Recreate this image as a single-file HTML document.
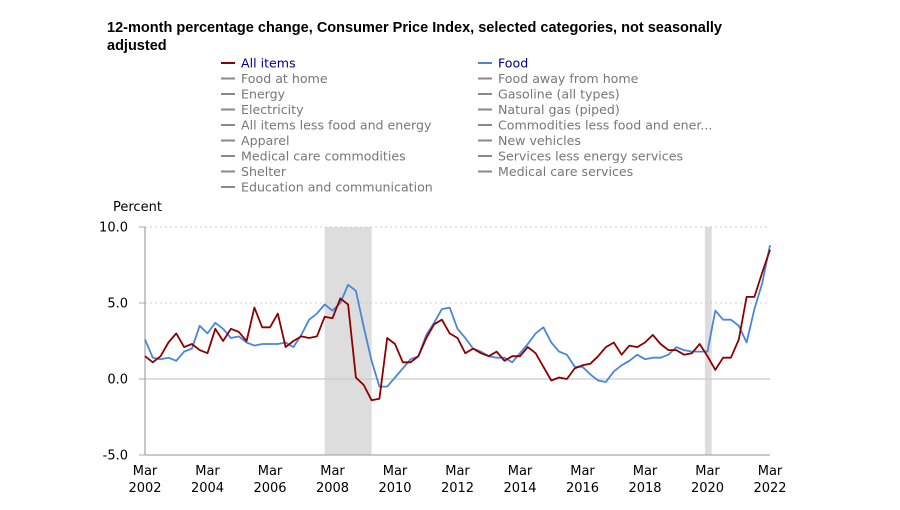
<!DOCTYPE html>
<html><head><meta charset="utf-8"><style>
body{margin:0;background:#fff;width:900px;height:506px;overflow:hidden;font-family:"DejaVu Sans","Liberation Sans",sans-serif}
svg text{font-family:"DejaVu Sans","Liberation Sans",sans-serif}
</style></head><body>
<svg width="900" height="506">
<text x="107" y="32" font-size="14.5" font-weight="bold" fill="#000" style="font-family:'Liberation Sans',sans-serif" textLength="615" lengthAdjust="spacingAndGlyphs">12-month percentage change, Consumer Price Index, selected categories, not seasonally</text>
<text x="107" y="50" font-size="14.5" font-weight="bold" fill="#000" style="font-family:'Liberation Sans',sans-serif">adjusted</text>
<g id="legend"></g>
<text x="113" y="211" font-size="13" fill="#000">Percent</text>
<g id="plot"></g>
</svg>
<script>
const years=[2002,2004,2006,2008,2010,2012,2014,2016,2018,2020,2022];
const yTicks=[10,5,0,-5];
const recessions=[[2007.917,2009.42],[2020.083,2020.3]];
const allItems=[1.5,1.1,1.5,2.4, 3.0,2.1,2.3,1.9, 1.7,3.3,2.5,3.3, 3.1,2.5,4.7,3.4, 3.4,4.3,2.1,2.5, 2.8,2.7,2.8,4.1, 4.0,5.3,4.9,0.1, -0.4,-1.4,-1.3,2.7, 2.3,1.1,1.1,1.5, 2.7,3.6,3.9,3.0, 2.7,1.7,2.0,1.7, 1.5,1.8,1.2,1.5, 1.5,2.1,1.7,0.8, -0.1,0.1,0.0,0.7, 0.9,1.0,1.5,2.1, 2.4,1.6,2.2,2.1, 2.4,2.9,2.3,1.9, 1.9,1.6,1.7,2.3, 1.5,0.6,1.4,1.4, 2.6,5.4,5.4,7.0, 8.5];
const food=[2.6,1.4,1.3,1.4, 1.2,1.8,2.0,3.5, 3.0,3.7,3.3,2.7, 2.8,2.4,2.2,2.3, 2.3,2.3,2.4,2.1, 2.9,3.9,4.3,4.9, 4.5,5.0,6.2,5.8, 3.4,1.2,-0.5,-0.5, 0.1,0.7,1.3,1.5, 2.9,3.7,4.6,4.7, 3.3,2.7,2.0,1.8, 1.5,1.4,1.4,1.1, 1.7,2.3,3.0,3.4, 2.4,1.8,1.6,0.8, 0.8,0.3,-0.1,-0.2, 0.5,0.9,1.2,1.6, 1.3,1.4,1.4,1.6, 2.1,1.9,1.8,1.8, 1.8,4.5,3.9,3.9, 3.5,2.4,4.6,6.3, 8.8];
const legendLeft=["All items","Food at home","Energy","Electricity","All items less food and energy","Apparel","Medical care commodities","Shelter","Education and communication"];
const legendRight=["Food","Food away from home","Gasoline (all types)","Natural gas (piped)","Commodities less food and ener...","New vehicles","Services less energy services","Medical care services"];
const NS="http://www.w3.org/2000/svg";
const X0=145,X1=770,T0=2002.167,T1=2022.167;
const xs=t=>X0+(t-T0)/(T1-T0)*(X1-X0);
const ys=v=>379-v*15.2;
function mk(tag,attrs,parent){const e=document.createElementNS(NS,tag);for(const k in attrs)e.setAttribute(k,attrs[k]);parent.appendChild(e);return e;}
const plot=document.getElementById('plot');
const leg=document.getElementById('legend');
function legendItem(label,x,y,color,tcolor){
  const g=mk('g',{},leg);
  
  
  mk('line',{x1:x,x2:x+14,y1:y,y2:y,stroke:color,'stroke-width':2},g);
  const t=mk('text',{x:x+20,y:y+4.5,'font-size':12.6,fill:tcolor},g);t.textContent=label;
}
legendLeft.forEach((l,i)=>legendItem(l,221,63+i*15.5,i==0?'#8b0000':'#888',i==0?'#00008b':'#777'));
legendRight.forEach((l,i)=>legendItem(l,478,63+i*15.5,i==0?'#4a86d8':'#888',i==0?'#00008b':'#777'));
recessions.forEach(r=>{const e=mk('rect',{x:xs(r[0]),y:ys(10),width:xs(r[1])-xs(r[0]),height:ys(-5)-ys(10),fill:'#ddd'},plot);

});
yTicks.forEach(v=>{
  const y=ys(v);
  const l=mk('line',{x1:X0,x2:X1,y1:y,y2:y,stroke:v==0?'#ccc':(v==-5?'#aaa':'#ccc'),'stroke-width':v==0||v==-5?1.3:1,'stroke-dasharray':v==0||v==-5?'':'2,3'},plot);
  
  
  mk('line',{x1:X0-6,x2:X0,y1:y,y2:y,stroke:'#aaa'},plot);
  const t=mk('text',{x:128,y:y+4.5,'font-size':13,'text-anchor':'end',fill:'#000'},plot);t.textContent=v.toFixed(1);
  
  
});
mk('line',{x1:X0,x2:X0,y1:ys(10),y2:ys(-5),stroke:'#aaa','stroke-width':1.3},plot);
years.forEach(yr=>{
  const x=xs(yr+0.167);
  const g=mk('text',{x:x,y:475,'font-size':13,'text-anchor':'middle',fill:'#000'},plot);
  
  
  const a=mk('tspan',{x:x,dy:0},g);a.textContent='Mar';
  const b=mk('tspan',{x:x,dy:17},g);b.textContent=yr;
});
function series(data,color,name){
  const d=data.map((v,i)=>(i?'L':'M')+xs(T0+i*0.25).toFixed(1)+' '+ys(v).toFixed(1)).join(' ');
  const p=mk('path',{d:d,fill:'none',stroke:color,'stroke-width':1.8,'stroke-linejoin':'round'},plot);
  
  
}
series(food,'#4a86d8','food-line');
series(allItems,'#8b0000','all-items-line');
</script>
</body></html>
